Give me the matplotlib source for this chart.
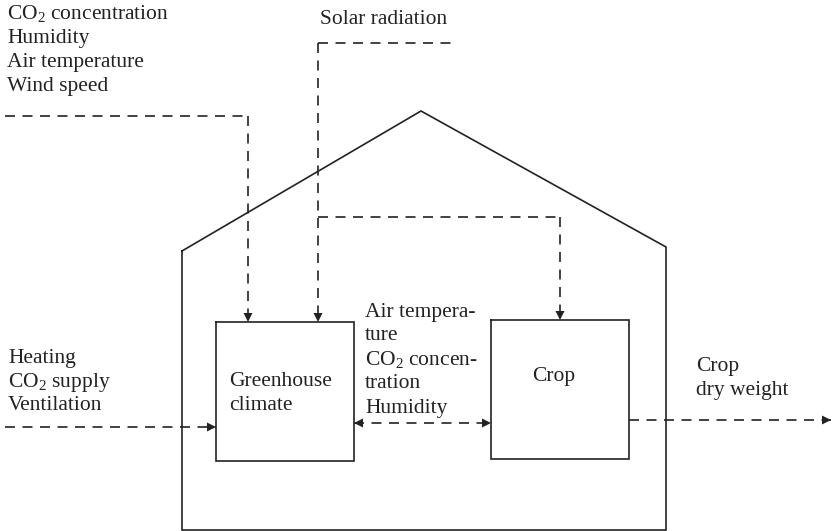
"""
Greenhouse climate / crop model block diagram.
Writes out.png (832 x 531 px).
"""

import matplotlib.pyplot as plt

plt.rcParams["font.family"] = ["Liberation Serif", "DejaVu Serif"]
plt.rcParams["mathtext.fontset"] = "custom"
plt.rcParams["mathtext.rm"] = "Liberation Serif"
plt.rcParams["mathtext.it"] = "Liberation Serif:italic"

# --- labels ---------------------------------------------------------------
outside_inputs = ["CO$_2$ concentration", "Humidity", "Air temperature",
                  "Wind speed"]
solar_label = "Solar radiation"
control_inputs = ["Heating", "CO$_2$ supply", "Ventilation"]
exchange_labels = ["Air tempera-", "ture", "CO$_2$ concen-", "tration",
                   "Humidity"]
climate_label = ["Greenhouse", "climate"]
crop_label = ["Crop"]
output_labels = ["Crop", "dry weight"]

W, H = 832, 531
fig = plt.figure(figsize=(W / 100, H / 100), dpi=100)
ax = fig.add_axes([0, 0, 1, 1])
ax.set_xlim(0, W)
ax.set_ylim(H, 0)
ax.axis("off")

LW = 1.2
COL = "#222222"
DASH = (0, (6, 4.5))
FS = 15.5
LINE = 24   # line spacing in px

# --- house outline --------------------------------------------------------
house_x = [182, 182, 666, 666, 421, 182]
house_y = [251, 530, 530, 247, 111, 251]
ax.plot(house_x, house_y, color=COL, lw=LW, solid_joinstyle="miter")

# --- boxes ----------------------------------------------------------------
GH = (216, 322, 138, 139)    # x, y, w, h
CR = (491, 320, 138, 139)
for (x, y, w, h) in (GH, CR):
    ax.plot([x, x + w, x + w, x, x], [y, y, y + h, y + h, y],
            color=COL, lw=LW, solid_joinstyle="miter")


def dline(xs, ys):
    ax.plot(xs, ys, color=COL, lw=LW, linestyle=DASH)


def head(tip, direction):
    """Small filled triangle with its point at tip."""
    dx, dy = direction
    L, Wd = 9, 4.5
    bx, by = tip[0] - dx * L, tip[1] - dy * L
    px, py = -dy * Wd, dx * Wd
    ax.fill([tip[0], bx + px, bx - px], [tip[1], by + py, by - py],
            color=COL, lw=0)


def darrow(p0, p1, both=False):
    dx = (p1[0] > p0[0]) - (p1[0] < p0[0])
    dy = (p1[1] > p0[1]) - (p1[1] < p0[1])
    dline([p0[0], p1[0]], [p0[1], p1[1]])
    head(p1, (dx, dy))
    if both:
        head(p0, (-dx, -dy))


# outside weather -> greenhouse climate
dline([5, 248], [116, 116])
darrow((248, 116), (248, GH[1]))

# solar radiation -> greenhouse climate and crop
dline([318, 455], [43, 43])
darrow((318, 43), (318, GH[1]))
dline([318, 560], [217, 217])
darrow((560, 217), (560, CR[1]))

# control inputs -> greenhouse climate
darrow((5, 427), (GH[0], 427))

# exchange between climate and crop
darrow((GH[0] + GH[2], 423), (CR[0], 423), both=True)

# crop output
darrow((CR[0] + CR[2], 420), (831, 420))


# --- text -----------------------------------------------------------------
def block(x, y0, lines, ha="left"):
    for i, s in enumerate(lines):
        ax.text(x, y0 + i * LINE, s, ha=ha, va="center", fontsize=FS,
                color=COL)


block(7, 14, outside_inputs)
block(320, 19, [solar_label])
block(8, 358, control_inputs)
block(229, 381, climate_label)
block(365, 312, exchange_labels)
block(532, 376, crop_label)
block(696, 367, output_labels)

fig.savefig("out.png", dpi=100)
